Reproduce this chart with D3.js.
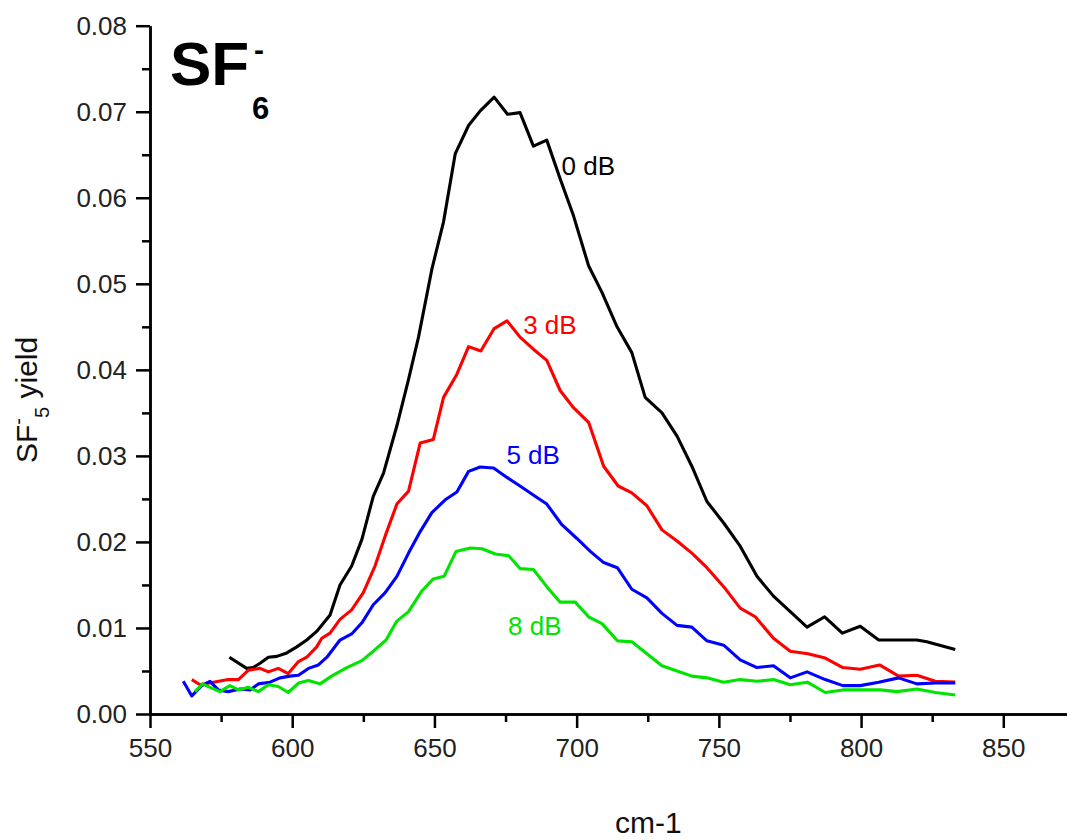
<!DOCTYPE html>
<html>
<head>
<meta charset="utf-8">
<script src="https://cdn.jsdelivr.net/npm/d3@7"></script>
<style>
  body { margin: 0; background: #fff; }
  text { font-family: "Liberation Sans", Arial, sans-serif; }
  .axis path, .axis line { stroke: #000; stroke-width: 2.5; }
  .axis text { font-size: 26px; fill: #222; }
</style>
</head>
<body>
<div id="chart"></div>
<script>
// set up chart parameters
var svg_width = 1067;
var svg_height = 840;

// axis ticks
var x_ticks = [550, 600, 650, 700, 750, 800, 850];
var x_minor = [575, 625, 675, 725, 775, 825];
var y_ticks = [0, 0.01, 0.02, 0.03, 0.04, 0.05, 0.06, 0.07, 0.08];
var y_minor = [0.005, 0.015, 0.025, 0.035, 0.045, 0.055, 0.065, 0.075];

// series names and colours
var series_names = ["0 dB", "3 dB", "5 dB", "8 dB"];
var series_colors = ["#000000", "#ff0000", "#0000ff", "#00e400"];

// 0 dB
var wn_0db = [577.9, 584.0, 586.3, 588.7, 591.6, 594.6, 598.1, 601.6, 605.1, 608.6, 611.6, 613.3, 616.8, 620.9, 624.5, 628.5, 632.1, 636.8, 640.9, 644.4, 649.1, 653.2, 657.3, 662.0, 666.1, 671.0, 675.7, 680.1, 684.8, 689.5, 694.2, 698.9, 704.2, 708.9, 714.2, 719.4, 724.1, 730.0, 735.3, 740.5, 745.8, 751.7, 757.5, 763.4, 769.2, 775.1, 781.0, 787.2, 793.4, 799.7, 806.2, 819.6, 823.1, 833.1];
var y_0db = [0.0066, 0.0053, 0.0054, 0.0059, 0.0066, 0.0067, 0.0071, 0.0078, 0.0086, 0.0096, 0.0108, 0.0115, 0.0150, 0.0172, 0.0203, 0.0253, 0.0280, 0.0335, 0.0389, 0.0438, 0.0517, 0.0572, 0.0651, 0.0684, 0.0701, 0.0717, 0.0697, 0.0699, 0.0660, 0.0667, 0.0622, 0.0579, 0.0521, 0.0490, 0.0450, 0.0420, 0.0368, 0.0350, 0.0323, 0.0288, 0.0247, 0.0222, 0.0195, 0.0160, 0.0137, 0.0119, 0.0101, 0.0113, 0.0094, 0.0102, 0.0086, 0.0086, 0.0084, 0.0075];

// 3 dB
var wn_3db = [564.7, 567.6, 572.3, 577.5, 581.1, 584.6, 588.7, 591.6, 595.1, 598.6, 602.2, 605.1, 608.6, 610.4, 613.3, 616.8, 620.9, 625.0, 629.1, 632.7, 636.8, 640.9, 645.0, 649.6, 653.2, 657.9, 662.0, 666.3, 671.0, 675.5, 680.1, 684.8, 689.5, 694.2, 698.9, 704.2, 709.5, 714.6, 719.4, 724.7, 730.0, 735.3, 740.5, 745.8, 751.7, 757.5, 762.8, 769.2, 775.1, 781.3, 787.4, 793.6, 799.7, 806.5, 813.2, 819.6, 826.1, 833.1];
var y_3db = [0.0040, 0.0034, 0.0037, 0.0040, 0.0040, 0.0051, 0.0053, 0.0049, 0.0053, 0.0047, 0.0061, 0.0066, 0.0078, 0.0088, 0.0094, 0.0110, 0.0121, 0.0141, 0.0172, 0.0207, 0.0244, 0.0259, 0.0315, 0.0319, 0.0368, 0.0395, 0.0427, 0.0422, 0.0448, 0.0457, 0.0438, 0.0424, 0.0411, 0.0376, 0.0356, 0.0339, 0.0288, 0.0265, 0.0257, 0.0242, 0.0214, 0.0201, 0.0187, 0.0170, 0.0148, 0.0123, 0.0113, 0.0088, 0.0073, 0.0070, 0.0065, 0.0054, 0.0052, 0.0057, 0.0044, 0.0045, 0.0038, 0.0037];

// 5 dB
var wn_5db = [561.7, 564.7, 568.2, 571.1, 574.0, 577.5, 581.7, 585.2, 588.1, 592.2, 595.7, 599.2, 602.2, 605.7, 609.2, 612.2, 616.8, 620.9, 624.5, 628.5, 632.7, 636.8, 640.9, 645.0, 649.1, 653.8, 657.9, 662.0, 666.1, 670.8, 675.5, 680.1, 685.4, 689.5, 694.8, 700.1, 704.8, 709.5, 714.3, 719.4, 724.7, 730.0, 735.3, 740.5, 745.8, 751.7, 757.5, 763.4, 769.2, 775.1, 781.0, 787.4, 793.6, 799.7, 806.2, 813.2, 819.6, 826.1, 833.1];
var y_5db = [0.0038, 0.0021, 0.0033, 0.0038, 0.0028, 0.0026, 0.0029, 0.0028, 0.0035, 0.0037, 0.0042, 0.0044, 0.0045, 0.0053, 0.0057, 0.0066, 0.0086, 0.0093, 0.0106, 0.0127, 0.0141, 0.0160, 0.0187, 0.0212, 0.0234, 0.0249, 0.0258, 0.0282, 0.0287, 0.0286, 0.0275, 0.0265, 0.0253, 0.0244, 0.0220, 0.0204, 0.0189, 0.0176, 0.0170, 0.0145, 0.0135, 0.0117, 0.0103, 0.0101, 0.0085, 0.0080, 0.0063, 0.0054, 0.0056, 0.0042, 0.0049, 0.0040, 0.0033, 0.0033, 0.0037, 0.0042, 0.0035, 0.0036, 0.0036];

// 8 dB
var wn_8db = [565.8, 568.5, 571.7, 574.6, 578.1, 581.1, 584.6, 588.1, 591.6, 595.1, 598.6, 602.2, 605.7, 609.8, 613.8, 619.2, 624.5, 628.5, 633.0, 636.8, 640.9, 645.6, 649.6, 653.4, 657.6, 662.6, 666.7, 671.4, 676.1, 680.1, 684.8, 689.5, 694.2, 699.5, 704.2, 708.9, 714.4, 719.4, 724.7, 730.0, 735.3, 740.5, 745.8, 751.7, 757.5, 763.4, 769.2, 775.1, 781.1, 787.4, 793.6, 806.8, 812.6, 819.6, 826.1, 833.1];
var y_8db = [0.0026, 0.0035, 0.0030, 0.0026, 0.0033, 0.0028, 0.0031, 0.0026, 0.0034, 0.0032, 0.0025, 0.0036, 0.0039, 0.0035, 0.0044, 0.0054, 0.0062, 0.0073, 0.0086, 0.0108, 0.0119, 0.0143, 0.0157, 0.0160, 0.0189, 0.0193, 0.0192, 0.0186, 0.0184, 0.0169, 0.0168, 0.0148, 0.0130, 0.0130, 0.0113, 0.0105, 0.0085, 0.0084, 0.0070, 0.0056, 0.0050, 0.0044, 0.0042, 0.0037, 0.0040, 0.0038, 0.0040, 0.0034, 0.0037, 0.0025, 0.0028, 0.0028, 0.0026, 0.0029, 0.0025, 0.0022];

// where the series labels sit, in data units
var label_x = [694.7, 681.2, 675.3, 675.9];
var label_y = [0.0626, 0.0442, 0.0290, 0.0092];

var all_wn = [wn_0db, wn_3db, wn_5db, wn_8db];
var all_y = [y_0db, y_3db, y_5db, y_8db];

//----------------------------------------------------------------------------------

var svg = d3.select("#chart")
    .append("svg")
    .attr("width", svg_width)
    .attr("height", svg_height);

svg.append("rect")
    .attr("width", svg_width)
    .attr("height", svg_height)
    .attr("fill", "#fff");

var x_scale = d3.scaleLinear()
    .domain([550, 872.4])
    .range([150, 1067]);

var y_scale = d3.scaleLinear()
    .domain([0, 0.08])
    .range([714, 25.7]);

// minor ticks first, no labels
svg.append("g")
    .attr("class", "axis")
    .attr("transform", "translate(0, 714)")
    .call(d3.axisBottom(x_scale).tickValues(x_minor).tickSize(8).tickSizeOuter(0).tickFormat(""));

svg.append("g")
    .attr("class", "axis")
    .attr("transform", "translate(150, 0)")
    .call(d3.axisLeft(y_scale).tickValues(y_minor).tickSize(8).tickSizeOuter(0).tickFormat(""));

// major ticks
var x_axis = svg.append("g")
    .attr("class", "axis")
    .attr("transform", "translate(0, 714)")
    .call(d3.axisBottom(x_scale).tickValues(x_ticks).tickSize(14).tickSizeOuter(0).tickPadding(11));

var y_axis = svg.append("g")
    .attr("class", "axis")
    .attr("transform", "translate(150, 0)")
    .call(d3.axisLeft(y_scale).tickValues(y_ticks).tickSize(14).tickSizeOuter(0).tickPadding(9)
        .tickFormat(d3.format(".2f")));

// draw the curves
var line = d3.line()
    .x(d => x_scale(d[0]))
    .y(d => y_scale(d[1]));

for (var i = 0; i < series_names.length; i++) {
    svg.append("path")
        .datum(d3.zip(all_wn[i], all_y[i]))
        .attr("fill", "none")
        .attr("stroke", series_colors[i])
        .attr("stroke-width", 3.1)
        .attr("stroke-linejoin", "round")
        .attr("d", line);

    svg.append("text")
        .attr("x", x_scale(label_x[i]))
        .attr("y", y_scale(label_y[i]))
        .attr("font-size", 26)
        .attr("fill", series_colors[i])
        .text(series_names[i]);
}

// title SF6-
svg.append("text")
    .attr("x", 170)
    .attr("y", 85)
    .attr("font-size", 62)
    .attr("font-weight", "bold")
    .text("SF");
svg.append("text")
    .attr("x", 254)
    .attr("y", 60)
    .attr("font-size", 30)
    .attr("font-weight", "bold")
    .text("-");
svg.append("text")
    .attr("x", 252)
    .attr("y", 119)
    .attr("font-size", 31)
    .attr("font-weight", "bold")
    .text("6");

// x axis label
svg.append("text")
    .attr("x", 615)
    .attr("y", 833)
    .attr("font-size", 30)
    .attr("fill", "#111")
    .text("cm-1");

// y axis label
var y_label = svg.append("text")
    .attr("transform", "translate(37, 463) rotate(-90)")
    .attr("font-size", 30)
    .attr("fill", "#111");
y_label.append("tspan").text("SF");
y_label.append("tspan").attr("font-size", 20).attr("dy", -12).text("-");
y_label.append("tspan").attr("font-size", 20).attr("dy", 24).text("5");
y_label.append("tspan").attr("dy", -12).text(" yield");
</script>
</body>
</html>
